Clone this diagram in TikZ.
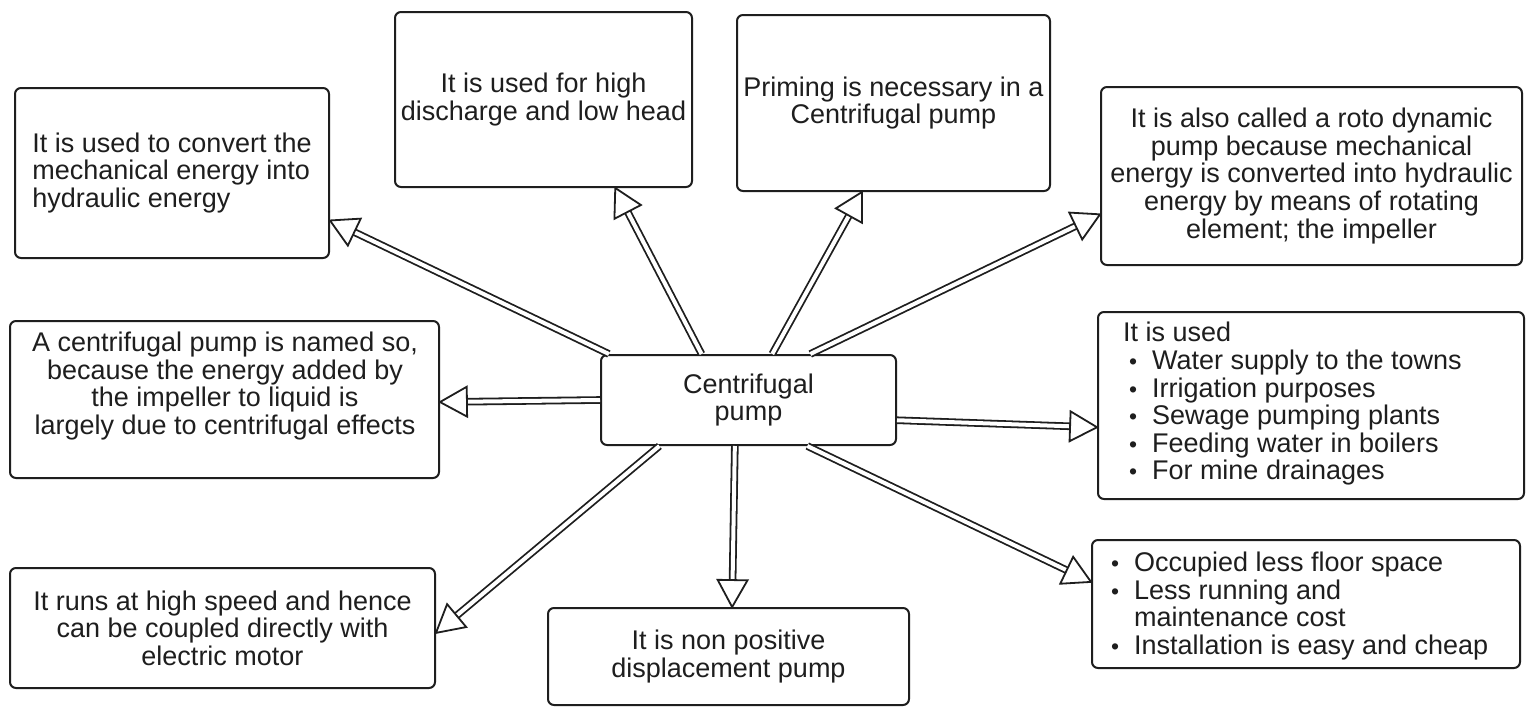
\documentclass[tikz,border=0pt]{standalone}
\usepackage{fontspec}
\setmainfont{Liberation Sans}
\usetikzlibrary{calc}
\definecolor{ink}{HTML}{1E1E1E}
\newcommand\hollowarrow[2]{%
  \draw[shaftline] (#1) -- ($(#2)!13pt!(#1)$);
  \draw[headline] let \p1=($(#2)-(#1)$), \n1={atan2(\y1,\x1)} in
    (#2) -- ($(#2)+(\n1+180+29:15.4pt)$) -- ($(#2)+(\n1+180-29:15.4pt)$) -- cycle;
}
\newcommand\bul{\makebox[0.85em][l]{\scalebox{0.85}{•}}}
\begin{document}
\begin{tikzpicture}[x=0.5pt,y=-0.5pt,
  every node/.style={font=\fontsize{13.5}{13.8}\selectfont, text=ink},
  box/.style={draw=ink, line width=1pt, rounded corners=3pt, fill=white, inner sep=0pt},
  shaftline/.style={draw=ink, double=white, double distance=2pt, line width=0.9pt},
  headline/.style={draw=ink, fill=white, line width=0.9pt, line join=miter},
]
\useasboundingbox[fill=white] (0,0) rectangle (1528,707);

% boxes
\node[box, minimum width=157pt, minimum height=85pt, align=left] (b1) at (172,173)
  {It is used to convert the\\mechanical energy into\\hydraulic energy};
\node[box, minimum width=148.5pt, minimum height=87.5pt, align=center] (b2) at (543.5,99.5)
  {It is used for high\\discharge and low head};
\node[box, minimum width=156.5pt, minimum height=88pt, align=center] (b3) at (893.5,103)
  {Priming is necessary in a\\Centrifugal pump};
\node[box, minimum width=210.5pt, minimum height=89pt, align=center] (b4) at (1311.5,176)
  {It is also called a roto dynamic\\pump because mechanical\\energy is converted into hydraulic\\energy by means of rotating\\element; the impeller};
\node[box, minimum width=214.5pt, minimum height=78.5pt] (b5) at (224.5,399.5) {};
\node[align=center] (t5) at (225,386)
  {A centrifugal pump is named so,\\because the energy added by\\the impeller to liquid is\\largely due to centrifugal effects};
\node[box, minimum width=147.5pt, minimum height=45pt, align=center] (c) at (748.5,400)
  {Centrifugal\\pump};
\node[box, minimum width=213pt, minimum height=93.5pt] (b6) at (1311,405.5) {};
\node[align=left, anchor=west] (t6) at (1116,404)
  {It is used\\\hspace*{3pt}\bul Water supply to the towns\\\hspace*{3pt}\bul Irrigation purposes\\\hspace*{3pt}\bul Sewage pumping plants\\\hspace*{3pt}\bul Feeding water in boilers\\\hspace*{3pt}\bul For mine drainages};
\node[box, minimum width=214pt, minimum height=64pt] (b7) at (1306,604) {};
\node[align=left, anchor=west] (t7) at (1104,606)
  {\bul Occupied less floor space\\\bul Less running and\\\hspace*{0.85em}maintenance cost\\\bul Installation is easy and cheap};
\node[box, minimum width=180.5pt, minimum height=48.5pt, align=center] (b8) at (728.5,656.5)
  {It is non positive\\displacement pump};
\node[box, minimum width=212.5pt, minimum height=60pt, align=center] (b9) at (222.5,628)
  {It runs at high speed and hence\\can be coupled directly with\\electric motor};

% connector end points
\coordinate (s1) at ($(c.north west)!0.03!(c.north east)$);
\coordinate (s2) at ($(c.north west)!0.342!(c.north east)$);
\coordinate (s3) at ($(c.north west)!0.58!(c.north east)$);
\coordinate (s4) at ($(c.north west)!0.708!(c.north east)$);
\coordinate (s5) at (c.west);
\coordinate (s6) at ($(c.north east)!0.72!(c.south east)$);
\coordinate (s7) at ($(c.south west)!0.2!(c.south east)$);
\coordinate (s8) at ($(c.south west)!0.454!(c.south east)$);
\coordinate (s9) at ($(c.south west)!0.698!(c.south east)$);

\coordinate (e1) at ($(b1.north east)!0.776!(b1.south east)$);
\coordinate (e2) at ($(b2.south west)!0.74!(b2.south east)$);
\coordinate (e3) at ($(b3.south west)!0.40!(b3.south east)$);
\coordinate (e4) at ($(b4.north west)!0.713!(b4.south west)$);
\coordinate (e5) at ($(b5.north east)!0.516!(b5.south east)$);
\coordinate (e6) at ($(b6.north west)!0.615!(b6.south west)$);
\coordinate (e7) at ($(b9.north east)!0.54!(b9.south east)$);
\coordinate (e8) at ($(b8.north west)!0.51!(b8.north east)$);
\coordinate (e9) at ($(b7.north west)!0.33!(b7.south west)$);

\hollowarrow{s1}{e1}
\hollowarrow{s2}{e2}
\hollowarrow{s3}{e3}
\hollowarrow{s4}{e4}
\hollowarrow{s5}{e5}
\hollowarrow{s6}{e6}
\hollowarrow{s7}{e7}
\hollowarrow{s8}{e8}
\hollowarrow{s9}{e9}
\end{tikzpicture}
\end{document}
